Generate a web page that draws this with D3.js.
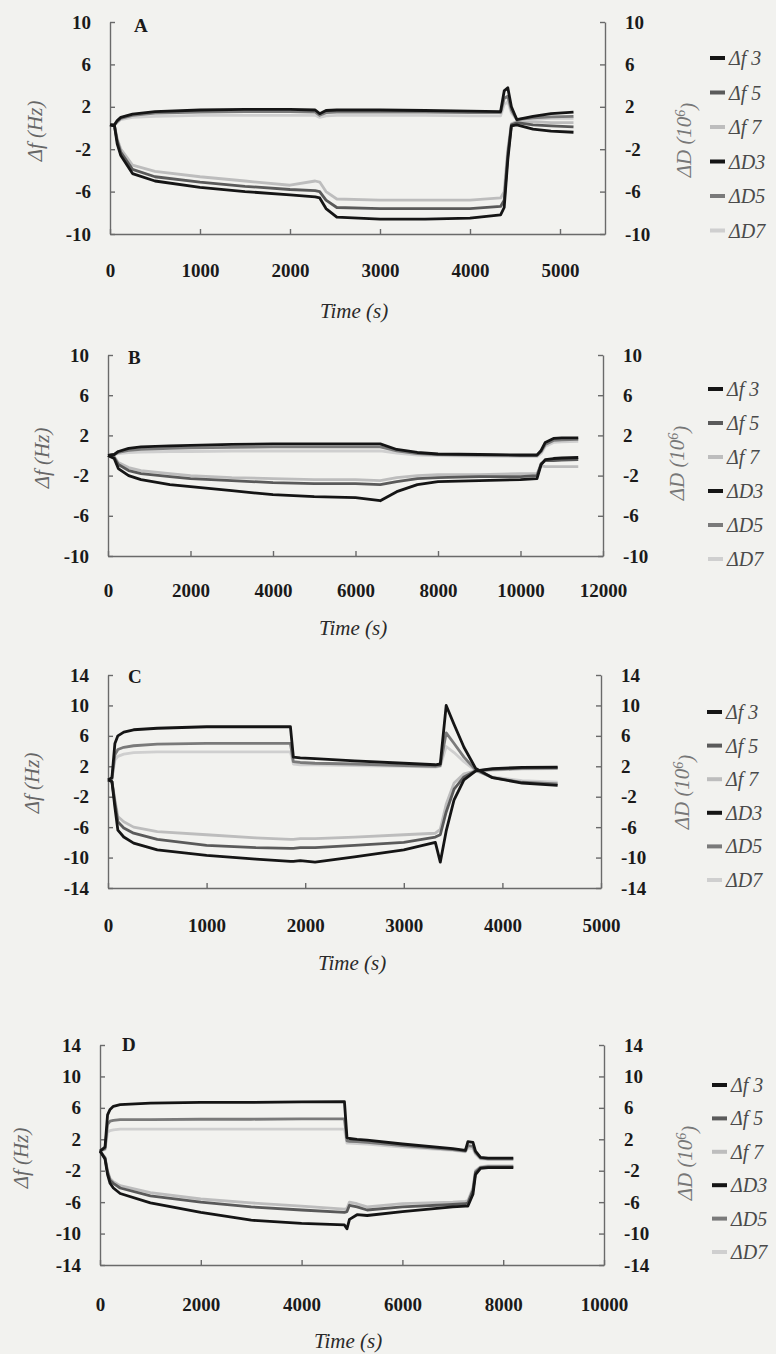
<!DOCTYPE html>
<html>
<head>
<meta charset="utf-8">
<script src="https://cdn.jsdelivr.net/npm/d3@7/dist/d3.min.js"></script>
<style>
	body { margin: 0; background: #f2f2ef; }
	svg { display: block; }
</style>
</head>
<body>
<svg id="chart" width="776" height="1354"></svg>
<script>
const SERIF = "'Liberation Serif', 'Times New Roman', Times, serif";

// series names and legend
const seriesNames = ["Δf 3", "Δf 5", "Δf 7", "ΔD3", "ΔD5", "ΔD7"];
const seriesColors = ["#151515", "#5a5a5a", "#bdbdbd", "#151515", "#7a7a7a", "#cfcfcf"];
const panelLetters = ["A", "B", "C", "D"];

// Panel A
const timeA = [0, 50, 80, 120, 250, 500, 1000, 1500, 2000, 2280, 2330, 2400, 2520, 3000, 3500, 4000, 4340, 4380, 4420, 4460, 4520, 4700, 4900, 5150];
const df3A = [0.3, 0.2, -1.5, -2.6, -4.3, -5.0, -5.6, -6.0, -6.3, -6.5, -6.6, -7.6, -8.4, -8.6, -8.6, -8.5, -8.2, -7.5, -3.0, 0.2, 0.3, -0.1, -0.3, -0.4];
const df5A = [0.3, 0.2, -1.2, -2.3, -3.9, -4.6, -5.1, -5.5, -5.8, -5.9, -6.0, -6.8, -7.5, -7.6, -7.6, -7.6, -7.4, -6.8, -2.5, 0.3, 0.5, 0.3, 0.2, 0.1];
const df7A = [0.3, 0.2, -1.0, -2.0, -3.5, -4.1, -4.6, -5.0, -5.4, -5.0, -5.1, -6.0, -6.7, -6.8, -6.8, -6.8, -6.6, -6.0, -2.0, 0.4, 0.6, 0.6, 0.5, 0.5];
const dD3A = [0.3, 0.3, 0.7, 1.0, 1.3, 1.55, 1.7, 1.75, 1.75, 1.7, 1.35, 1.65, 1.7, 1.7, 1.65, 1.6, 1.55, 3.5, 3.8, 2.0, 0.8, 1.1, 1.35, 1.5];
const dD5A = [0.3, 0.3, 0.6, 0.9, 1.2, 1.4, 1.5, 1.55, 1.55, 1.5, 1.2, 1.45, 1.5, 1.5, 1.5, 1.45, 1.45, 2.8, 3.0, 1.7, 0.8, 0.95, 1.05, 1.1];
const dD7A = [0.3, 0.3, 0.5, 0.8, 1.0, 1.1, 1.2, 1.2, 1.2, 1.2, 1.0, 1.15, 1.2, 1.2, 1.2, 1.15, 1.15, 2.2, 2.5, 1.4, 0.8, 0.85, 0.9, 0.9];

// Panel B
const timeB = [0, 150, 250, 500, 800, 1500, 2000, 3000, 4000, 5000, 6000, 6600, 7000, 7500, 8000, 9000, 10000, 10400, 10500, 10600, 10800, 11000, 11400];
const df3B = [0, -0.3, -1.3, -2.0, -2.4, -2.9, -3.1, -3.5, -3.9, -4.1, -4.2, -4.5, -3.6, -2.9, -2.6, -2.5, -2.4, -2.3, -0.9, -0.4, -0.3, -0.25, -0.2];
const df5B = [0, -0.2, -0.9, -1.5, -1.8, -2.1, -2.3, -2.5, -2.7, -2.8, -2.8, -2.9, -2.6, -2.3, -2.2, -2.1, -2.1, -2.0, -0.8, -0.5, -0.5, -0.45, -0.4];
const df7B = [0, -0.1, -0.7, -1.2, -1.5, -1.8, -2.0, -2.2, -2.3, -2.4, -2.4, -2.5, -2.2, -2.0, -1.9, -1.9, -1.8, -1.8, -1.0, -1.1, -1.1, -1.1, -1.1];
const dD3B = [0, 0.1, 0.4, 0.7, 0.85, 0.95, 1.0, 1.1, 1.15, 1.15, 1.15, 1.15, 0.6, 0.3, 0.15, 0.1, 0.05, 0.05, 0.5, 1.3, 1.7, 1.75, 1.75];
const dD5B = [0, 0.1, 0.3, 0.5, 0.6, 0.7, 0.75, 0.8, 0.85, 0.85, 0.85, 0.85, 0.45, 0.2, 0.1, 0.05, 0.0, 0.0, 0.4, 1.1, 1.5, 1.55, 1.6];
const dD7B = [0, 0.05, 0.2, 0.3, 0.35, 0.4, 0.4, 0.45, 0.45, 0.45, 0.45, 0.45, 0.25, 0.05, 0.0, -0.05, -0.1, -0.1, 0.2, 0.9, 1.3, 1.35, 1.4];

// Panel C
const timeC = [0, 40, 70, 100, 160, 260, 500, 1000, 1500, 1850, 1880, 1950, 2100, 2500, 3000, 3320, 3370, 3430, 3510, 3610, 3730, 3900, 4200, 4560];
const df3C = [0.2, 0.0, -3.4, -6.4, -7.3, -8.1, -9.0, -9.7, -10.2, -10.5, -10.5, -10.4, -10.6, -9.9, -9.0, -8.0, -10.6, -6.5, -2.4, 0.2, 1.4, 1.7, 1.85, 1.9];
const df5C = [0.2, 0.0, -2.8, -5.3, -6.1, -6.8, -7.6, -8.4, -8.7, -8.8, -8.8, -8.7, -8.7, -8.4, -8.0, -7.3, -7.0, -4.0, -1.0, 0.6, 1.4, 1.6, 1.75, 1.8];
const df7C = [0.2, 0.0, -2.4, -4.6, -5.3, -6.0, -6.6, -7.0, -7.4, -7.6, -7.6, -7.5, -7.5, -7.3, -7.0, -6.8, -6.3, -3.0, -0.2, 1.0, 1.4, 1.5, 1.65, 1.7];
const dD3C = [0.2, 0.5, 5.0, 6.0, 6.5, 6.8, 7.0, 7.2, 7.2, 7.2, 3.2, 3.1, 3.0, 2.7, 2.4, 2.2, 2.3, 10.0, 7.5, 4.5, 1.7, 0.5, -0.2, -0.5];
const dD5C = [0.2, 0.4, 3.5, 4.2, 4.5, 4.7, 4.9, 5.0, 5.0, 5.0, 2.6, 2.5, 2.4, 2.3, 2.1, 2.0, 2.1, 6.4, 5.0, 3.2, 1.5, 0.5, -0.1, -0.3];
const dD7C = [0.2, 0.3, 2.8, 3.3, 3.6, 3.8, 3.9, 3.9, 3.9, 3.9, 2.3, 2.2, 2.2, 2.1, 2.0, 1.9, 2.0, 4.6, 3.8, 2.6, 1.4, 0.6, 0.1, -0.1];

// Panel D
const timeD = [0, 100, 150, 200, 265, 400, 1000, 2000, 3000, 4000, 4850, 4900, 4950, 5100, 5300, 6000, 7000, 7250, 7300, 7400, 7450, 7550, 7700, 8200];
const df3D = [0.5, -0.5, -2.5, -3.6, -4.2, -4.9, -6.1, -7.3, -8.3, -8.7, -8.9, -9.4, -8.2, -7.6, -7.7, -7.2, -6.6, -6.5, -6.5, -5.0, -2.5, -1.7, -1.6, -1.6];
const df5D = [0.5, -0.4, -2.2, -3.2, -3.6, -4.2, -5.2, -6.0, -6.6, -7.0, -7.3, -7.2, -6.4, -6.6, -7.0, -6.6, -6.3, -6.2, -6.1, -4.5, -2.2, -1.6, -1.5, -1.5];
const df7D = [0.5, -0.3, -2.0, -3.0, -3.4, -3.9, -4.8, -5.6, -6.1, -6.5, -6.9, -6.8, -6.0, -6.2, -6.6, -6.2, -6.0, -5.9, -5.8, -4.2, -2.0, -1.5, -1.4, -1.4];
const dD3D = [0.5, 1.0, 5.1, 5.8, 6.2, 6.4, 6.6, 6.7, 6.7, 6.75, 6.8, 2.2, 2.1, 2.0, 1.9, 1.4, 0.8, 0.6, 1.7, 1.6, 0.5, -0.3, -0.4, -0.4];
const dD5D = [0.5, 0.8, 3.9, 4.3, 4.4, 4.5, 4.5, 4.55, 4.55, 4.6, 4.6, 1.8, 1.75, 1.7, 1.6, 1.2, 0.7, 0.5, 1.2, 1.1, 0.3, -0.4, -0.5, -0.5];
const dD7D = [0.5, 0.7, 2.9, 3.1, 3.2, 3.3, 3.3, 3.3, 3.3, 3.3, 3.3, 1.5, 1.5, 1.45, 1.4, 1.0, 0.6, 0.4, 0.9, 0.8, 0.1, -0.5, -0.6, -0.6];

// Axis ticks
const xTicksA = [0, 1000, 2000, 3000, 4000, 5000];
const xTicksB = [0, 2000, 4000, 6000, 8000, 10000, 12000];
const xTicksC = [0, 1000, 2000, 3000, 4000, 5000];
const xTicksD = [0, 2000, 4000, 6000, 8000, 10000];
const yTicks10 = [-10, -6, -2, 2, 6, 10];
const yTicks14 = [-14, -10, -6, -2, 2, 6, 10, 14];

// Layout of each panel (pixels)
const panels = [
	{ time: timeA, series: [df3A, df5A, df7A, dD3A, dD5A, dD7A], xMax: 5500, xTicks: xTicksA, yTicks: yTicks10,
		left: 110, right: 605, top: 22, bottom: 234, labelGap: 30, timeY: 318, timeX: 354,
		yLabelX: 35, yLabelY: 131, dLabelX: 684, dLabelY: 140, legendX: 710, legendY: 58, legendStep: 34.5, letterX: 134, letterY: 32 },
	{ time: timeB, series: [df3B, df5B, df7B, dD3B, dD5B, dD7B], xMax: 12000, xTicks: xTicksB, yTicks: yTicks10,
		left: 108, right: 603, top: 355, bottom: 556, labelGap: 28, timeY: 635, timeX: 353,
		yLabelX: 42, yLabelY: 458, dLabelX: 677, dLabelY: 463, legendX: 708, legendY: 389, legendStep: 34, letterX: 128, letterY: 364 },
	{ time: timeC, series: [df3C, df5C, df7C, dD3C, dD5C, dD7C], xMax: 5000, xTicks: xTicksC, yTicks: yTicks14,
		left: 108, right: 601, top: 675, bottom: 888, labelGap: 31, timeY: 970, timeX: 352,
		yLabelX: 32, yLabelY: 783, dLabelX: 682, dLabelY: 792, legendX: 707, legendY: 712, legendStep: 33.6, letterX: 128, letterY: 683 },
	{ time: timeD, series: [df3D, df5D, df7D, dD3D, dD5D, dD7D], xMax: 10000, xTicks: xTicksD, yTicks: yTicks14,
		left: 100, right: 604, top: 1045, bottom: 1265, labelGap: 33, timeY: 1348, timeX: 348,
		yLabelX: 21, yLabelY: 1158, dLabelX: 685, dLabelY: 1163, legendX: 712, legendY: 1085, legendStep: 33.4, letterX: 122, letterY: 1051 }
];

// Plain hyphen minus, no thousands separator (as in the original figure)
const plain = d => String(d);

const svg = d3.select("#chart");

panels.forEach((p, i) => {
	const g = svg.append("g");
	const yExtent = d3.extent(p.yTicks);

	const x = d3.scaleLinear().domain([0, p.xMax]).range([p.left, p.right]);
	const y = d3.scaleLinear().domain(yExtent).range([p.bottom, p.top]);

	// Axes
	const xAxis = g.append("g")
		.attr("transform", `translate(0,${p.bottom})`)
		.call(d3.axisBottom(x).tickValues(p.xTicks).tickFormat(plain)
			.tickSizeInner(-5).tickSizeOuter(0).tickPadding(p.labelGap));
	const leftAxis = g.append("g")
		.attr("transform", `translate(${p.left},0)`)
		.call(d3.axisLeft(y).tickValues(p.yTicks).tickFormat(plain)
			.tickSizeInner(-5).tickSizeOuter(0).tickPadding(19));
	const rightAxis = g.append("g")
		.attr("transform", `translate(${p.right},0)`)
		.call(d3.axisRight(y).tickValues(p.yTicks).tickFormat(plain)
			.tickSizeInner(-5).tickSizeOuter(0).tickPadding(20));

	[xAxis, leftAxis, rightAxis].forEach(a => {
		a.selectAll("path.domain, line").attr("stroke", "#6a6a6a").attr("stroke-width", 1.4);
		a.selectAll("text")
			.style("font-family", SERIF)
			.style("font-weight", "bold")
			.style("font-size", "19px")
			.attr("fill", "#1a1a1a");
	});

	// Data lines, light series first so the dark ones stay on top
	const line = d3.line()
		.x((d, k) => x(p.time[k]))
		.y(d => y(d));
	const order = [2, 5, 1, 4, 0, 3];
	g.append("g")
		.selectAll("path")
		.data(order)
		.join("path")
		.attr("d", s => line(p.series[s]))
		.attr("fill", "none")
		.attr("stroke", s => seriesColors[s])
		.attr("stroke-width", 2.8)
		.attr("stroke-linejoin", "round");

	// Panel letter
	g.append("text")
		.attr("x", p.letterX)
		.attr("y", p.letterY)
		.style("font-family", SERIF)
		.style("font-weight", "bold")
		.style("font-size", "19px")
		.attr("fill", "#1a1a1a")
		.text(panelLetters[i]);

	// Axis titles
	g.append("text")
		.attr("x", p.timeX)
		.attr("y", p.timeY)
		.attr("text-anchor", "middle")
		.style("font-family", SERIF)
		.style("font-style", "italic")
		.style("font-size", "21px")
		.attr("fill", "#2a2a2a")
		.text("Time (s)");

	g.append("text")
		.attr("transform", `translate(${p.yLabelX},${p.yLabelY}) rotate(-90)`)
		.attr("text-anchor", "middle")
		.attr("dy", "0.35em")
		.style("font-family", SERIF)
		.style("font-style", "italic")
		.style("font-size", "21px")
		.attr("fill", "#666")
		.text("Δf (Hz)");

	const dLabel = g.append("text")
		.attr("transform", `translate(${p.dLabelX},${p.dLabelY}) rotate(-90)`)
		.attr("text-anchor", "middle")
		.attr("dy", "0.35em")
		.style("font-family", SERIF)
		.style("font-style", "italic")
		.style("font-size", "21px")
		.attr("fill", "#777");
	dLabel.append("tspan").text("ΔD (10");
	dLabel.append("tspan").attr("dy", "-0.45em").style("font-size", "14px").text("6");
	dLabel.append("tspan").attr("dy", "0.45em").text(")");

	// Legend
	const item = g.append("g")
		.selectAll("g")
		.data(seriesNames)
		.join("g")
		.attr("transform", (d, k) => `translate(${p.legendX},${p.legendY + k * p.legendStep})`);
	item.append("line")
		.attr("x1", 0).attr("x2", 15)
		.attr("stroke", (d, k) => seriesColors[k])
		.attr("stroke-width", 4);
	item.append("text")
		.attr("x", 19)
		.attr("dy", "0.35em")
		.style("font-family", SERIF)
		.style("font-style", "italic")
		.style("font-size", "20px")
		.attr("fill", "#4a4a4a")
		.text(d => d);
});
</script>
</body>
</html>
